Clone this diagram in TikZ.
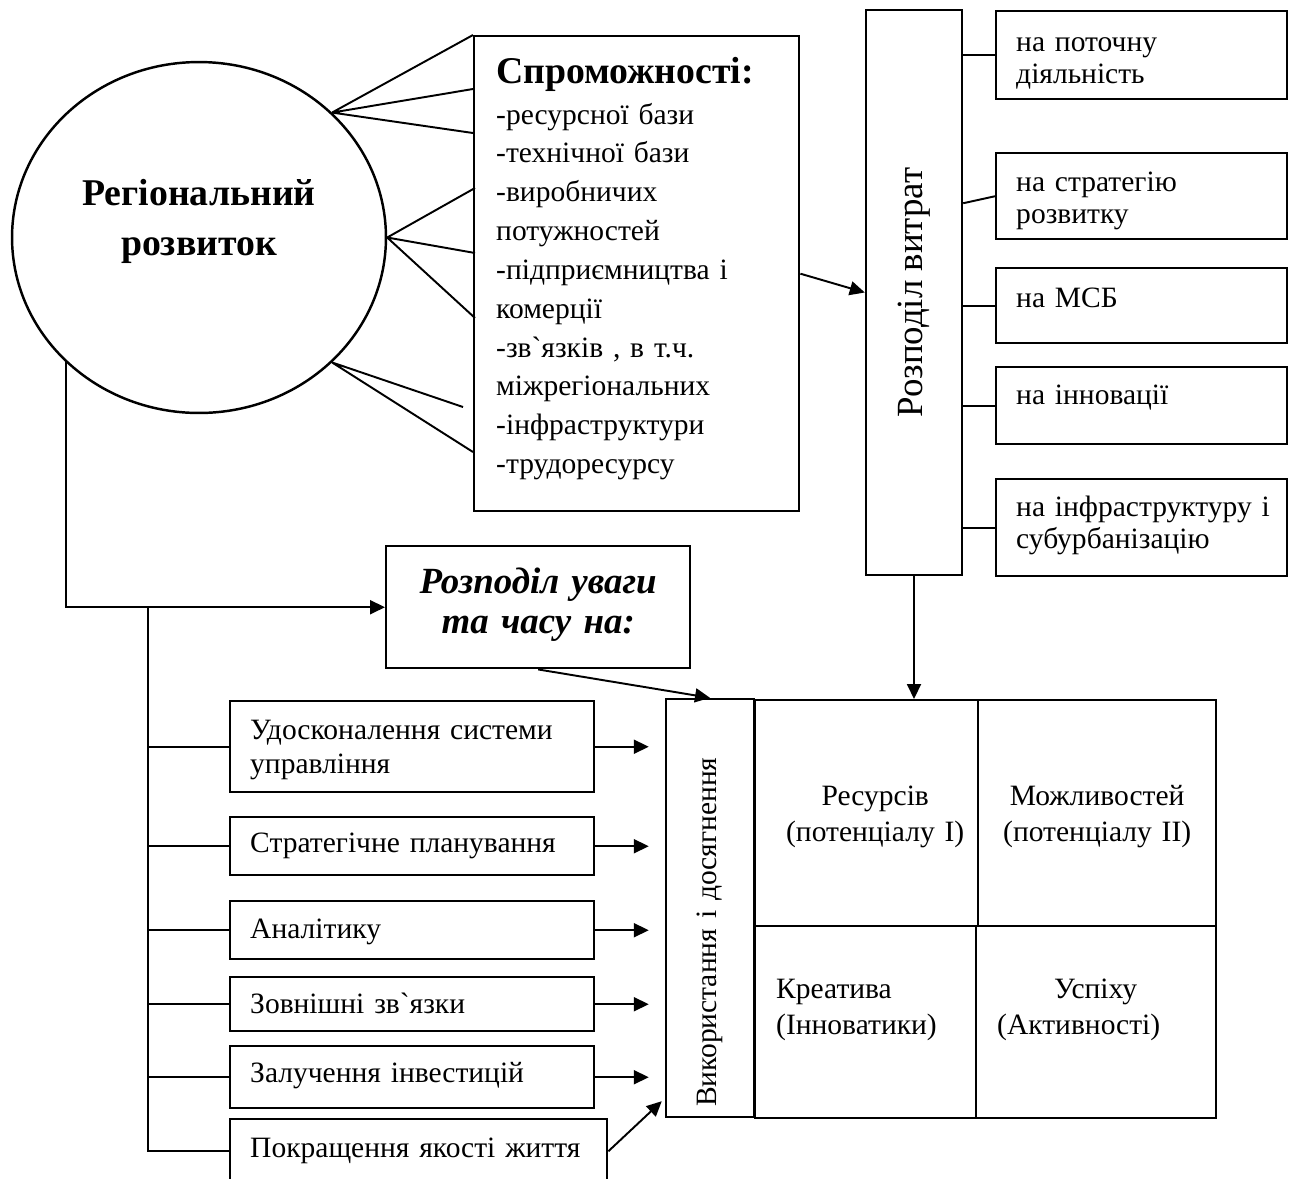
\documentclass[tikz,border=0pt]{standalone}
\usepackage{fontspec}
\setmainfont{Liberation Serif}
\usetikzlibrary{arrows.meta,calc,shapes.geometric}

\tikzset{
  box/.style={draw, line width=1.4pt, rectangle, anchor=north west, inner ysep=0pt, text height=0pt, text depth=0pt},
  rbox/.style={box, minimum width=5.82cm, inner xsep=0.4cm, text width=5.02cm, align=left, font=\fontsize{16.8}{18.2}\selectfont},
  lbox/.style={box, minimum width=7.28cm, inner xsep=0.4cm, text width=6.48cm, align=left, font=\fontsize{16.8}{19.3}\selectfont},
  cell/.style={box, font=\fontsize{16.8}{20.5}\selectfont},
  link/.style={line width=1.1pt},
}

\begin{document}
\begin{tikzpicture}[x=0.02cm, y=-0.02cm, >={Triangle[length=0.3cm,width=0.28cm]}]

\useasboundingbox (0,0) rectangle (1294,1178);

\node[ellipse, draw, line width=1.4pt, minimum width=7.48cm, minimum height=7.02cm, inner sep=0pt, text width=5.2cm, align=center, text height=0pt, text depth=1.3cm, font=\bfseries\fontsize{21.5}{28.5}\selectfont] (reg) at (199,237.5) {Регіональний\\розвиток};

\node[box, minimum width=6.5cm, minimum height=9.5cm, inner xsep=0.44cm, text width=5.62cm, align=left, text depth=7.62cm, font=\fontsize{16.8}{22.1}\selectfont] (spo) at (473,35) {{\bfseries\fontsize{21.5}{22.1}\selectfont Спроможності:}\\[1.2pt]
-ресурсної бази\\-технічної бази\\-виробничих\\потужностей\\-підприємництва і\\комерції\\-зв\textasciigrave язків , в т.ч.\\міжрегіональних\\-інфраструктури\\-трудоресурсу};

\node[draw, line width=1.4pt, rotate=90, minimum width=11.3cm, minimum height=1.92cm, font=\fontsize{21}{25}\selectfont] (vytrat) at (914,292.5) {Розподіл витрат};

\node[rbox, minimum height=1.76cm, text depth=0.16cm] (potoch) at (995,10) {на поточну\\діяльність};
\node[rbox, minimum height=1.72cm, text depth=0.2cm] (strat) at (995,152) {на стратегію\\розвитку};
\node[rbox, minimum height=1.5cm, text height=0.06cm] (msb) at (995,267) {на МСБ};
\node[rbox, minimum height=1.54cm, text depth=0.06cm] (innov) at (995,366) {на інновації};
\node[rbox, minimum height=1.94cm, text depth=0.46cm] (infra) at (995,478) {на~інфраструктуру~і\\субурбанізацію};

\node[box, minimum width=6.08cm, minimum height=2.44cm, text width=5.5cm, align=center, text depth=0.56cm, font=\bfseries\itshape\fontsize{21}{22.8}\selectfont] (uvahy) at (385,545) {Розподіл уваги\\та часу на:};

\node[lbox, minimum height=1.82cm, text depth=0.3cm] (upr) at (229,700) {Удосконалення системи\\управління};
\node[lbox, minimum height=1.16cm, text height=0.24cm] (plan) at (229,816) {Стратегічне планування};
\node[lbox, minimum height=1.16cm, text height=0.32cm] (anal) at (229,900) {Аналітику};
\node[lbox, minimum height=1.08cm, text height=0.36cm] (zovn) at (229,976) {Зовнішні зв\textasciigrave язки};
\node[lbox, minimum height=1.24cm, text height=0.2cm] (invest) at (229,1045) {Залучення інвестицій};
\node[lbox, minimum width=7.54cm, text width=6.74cm, minimum height=1.28cm, text height=0.24cm] (zhyttia) at (229,1118) {Покращення якості життя};

\node[draw, line width=1.4pt, rotate=90, minimum width=8.36cm, minimum height=1.76cm, inner xsep=0.2cm, text width=7.96cm, align=left, font=\fontsize{16.8}{20}\selectfont] (use) at (710,908) {Використання і досягнення};
\node[cell, minimum width=4.46cm, minimum height=4.52cm, text width=4cm, align=center, text depth=0.32cm] (res) at (754,699) {\hspace*{0.34cm}Ресурсів\\\hspace*{0.34cm}(потенціалу I)};
\node[cell, minimum width=4.76cm, minimum height=4.52cm, text width=4.2cm, align=center, text depth=0.32cm] (mozh) at (977,699) {Можливостей\\(потенціалу II)};
\node[cell, minimum width=4.42cm, minimum height=3.84cm, inner xsep=0.42cm, text width=3.58cm, align=left, text depth=0.96cm] (kreat) at (754,925) {Креатива\\(Інноватики)};
\node[cell, minimum width=4.8cm, minimum height=3.84cm, inner xsep=0.42cm, text width=3.96cm, align=left, text depth=0.96cm] (uspikh) at (975,925) {\hspace*{1.14cm}Успіху\\(Активності)};

\draw[link] (reg.north east) -- (spo.north west)
  (reg.north east) -- ($(spo.north west)+(0,54)$)
  (reg.north east) -- ($(spo.north west)+(0,98)$);
\draw[link] (reg.east) -- ($(spo.north west)+(2,153)$)
  (reg.east) -- ($(spo.north west)+(2,218)$)
  (reg.east) -- ($(spo.north west)+(2,283)$);
\draw[link] (reg.south east) -- ($(spo.north west)+(-10,372)$)
  (reg.south east) -- ($(spo.north west)+(0,417)$);

\draw[link,->] (spo.east) -- (vytrat.north);

\draw[link] (vytrat.south |- potoch.west) -- (potoch.west);
\draw[link] ($(vytrat.south |- strat.west)+(0,7)$) -- (strat.west);
\draw[link] (vytrat.south |- msb.west) -- (msb.west);
\draw[link] (vytrat.south |- innov.west) -- (innov.west);
\draw[link] (vytrat.south |- infra.west) -- (infra.west);

\draw[link,->] (vytrat.west) -- (vytrat.west |- res.north);

\draw[link,->] (reg.south west) |- (uvahy.west);
\draw[link,->] (uvahy.south) -- (use.east);

\coordinate (fork) at (148,606);
\draw[link] (fork) |- (zhyttia.west);
\draw[link] (fork |- upr.west) -- (upr.west);
\draw[link] (fork |- plan.west) -- (plan.west);
\draw[link] (fork |- anal.west) -- (anal.west);
\draw[link] (fork |- zovn.west) -- (zovn.west);
\draw[link] (fork |- invest.west) -- (invest.west);

\coordinate (tip) at ($(use.north)+(-16,0)$);
\draw[link,->] (upr.east) -- (upr.east -| tip);
\draw[link,->] (plan.east) -- (plan.east -| tip);
\draw[link,->] (anal.east) -- (anal.east -| tip);
\draw[link,->] (zovn.east) -- (zovn.east -| tip);
\draw[link,->] (invest.east) -- (invest.east -| tip);
\draw[link,->] (zhyttia.east) -- ($(use.north west)+(-3,-17)$);

\end{tikzpicture}
\end{document}
